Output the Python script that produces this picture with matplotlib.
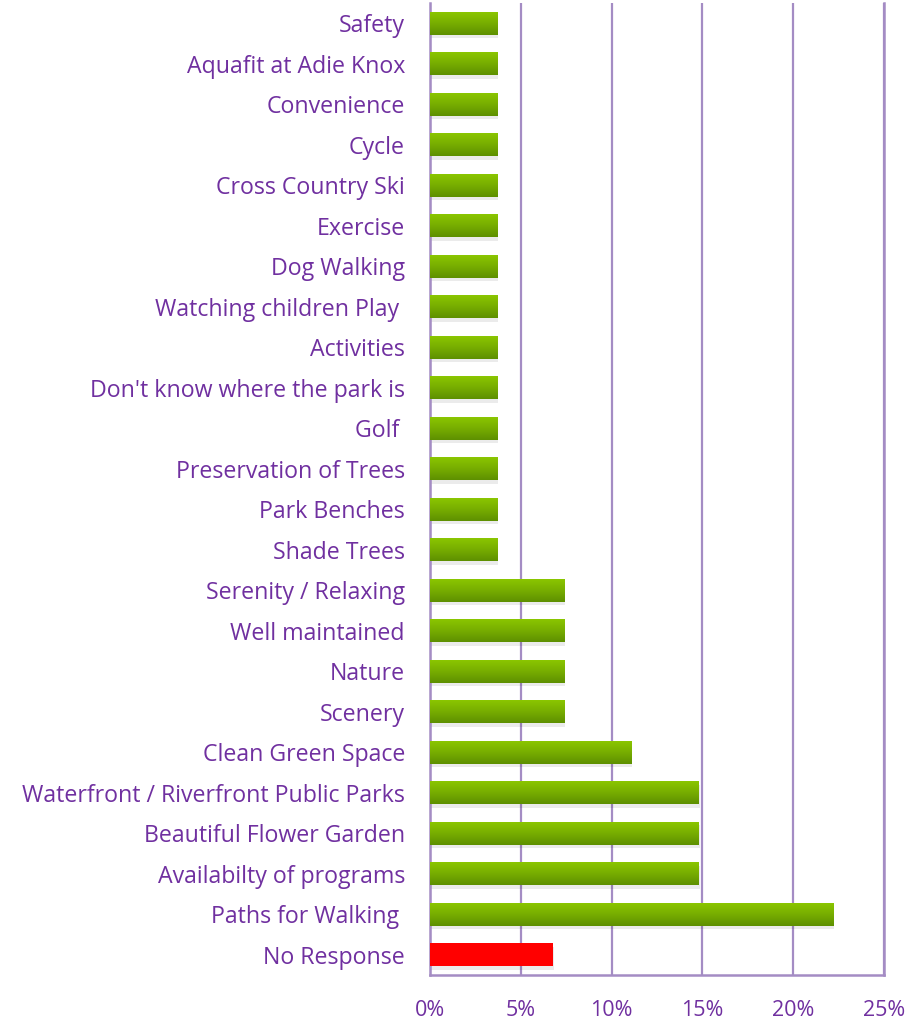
import matplotlib
matplotlib.use("Agg")
import matplotlib.pyplot as plt
import numpy as np
from matplotlib.colors import LinearSegmentedColormap
from matplotlib.ticker import FuncFormatter, MultipleLocator

categories = [
    "Safety", "Aquafit at Adie Knox", "Convenience", "Cycle", "Cross Country Ski",
    "Exercise", "Dog Walking", "Watching children Play ", "Activities",
    "Don't know where the park is", "Golf ", "Preservation of Trees",
    "Park Benches", "Shade Trees", "Serenity / Relaxing", "Well maintained",
    "Nature", "Scenery", "Clean Green Space", "Waterfront / Riverfront Public Parks",
    "Beautiful Flower Garden", "Availabilty of programs", "Paths for Walking ",
    "No Response",
]
values = [3.7, 3.7, 3.7, 3.7, 3.7, 3.7, 3.7, 3.7, 3.7, 3.7, 3.7, 3.7, 3.7, 3.7,
          7.4, 7.4, 7.4, 7.4, 11.1, 14.8, 14.8, 14.8, 22.2, 6.8]
highlight = ["No Response"]

purple = "#7030A0"
grid_c = "#A48CC4"

plt.rcParams['font.family'] = ['Open Sans', 'DejaVu Sans']

fig = plt.figure(figsize=(9.08, 10.27), dpi=100)
ax = fig.add_axes([430/908, 1-975/1027, 454/908, 972/1027])

n = len(categories)
y = np.arange(n)
h = 0.57

green_cmap = LinearSegmentedColormap.from_list("g", ["#8CC800", "#78AE00", "#5E9000"])
grad = np.linspace(0, 1, 64).reshape(-1, 1)

for yi, v, c in zip(y, values, categories):
    # soft shadow
    ax.barh(yi + 0.09, v + 0.05, height=h, color="#000000", alpha=0.08, zorder=2, linewidth=0)
    if c in highlight:
        ax.barh(yi, v, height=h, color="#FF0000", zorder=3, linewidth=0)
    else:
        bars = ax.barh(yi, v, height=h, color="#7AB000", zorder=3, linewidth=0)
        patch = bars[0]
        im = ax.imshow(grad, cmap=green_cmap, aspect="auto",
                       extent=[0, v, yi + h/2, yi - h/2], zorder=4,
                       interpolation="bilinear")
        im.set_clip_path(patch)

ax.set_xlim(0, 25)
ax.set_ylim(n - 0.5, -0.5)
ax.set_yticks(y)
ax.set_yticklabels(categories, fontsize=16.7, color=purple)
ax.xaxis.set_major_locator(MultipleLocator(5))
ax.xaxis.set_major_formatter(FuncFormatter(lambda v, p: f"{int(v)}%"))
ax.tick_params(axis="x", labelsize=15.5, labelcolor=purple, length=0, pad=18)
ax.tick_params(axis="y", length=0, pad=18)

ax.grid(axis="x", color=grid_c, linewidth=1.6, zorder=1)
ax.set_axisbelow(True)
for s in ["left", "bottom", "right"]:
    ax.spines[s].set_color(grid_c)
    ax.spines[s].set_linewidth(1.8)
ax.spines["top"].set_visible(False)

fig.savefig("out.png", dpi=100)
